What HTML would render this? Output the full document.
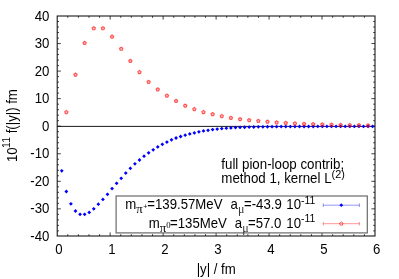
<!DOCTYPE html>
<html><head><meta charset="utf-8"><title>plot</title>
<style>html,body{margin:0;padding:0;background:#fff;}svg{display:block;will-change:transform;}text{font-family:"Liberation Sans",sans-serif;fill:#000;}.sym{font-family:"Liberation Serif",serif;}.mu{fill:#333;}</style>
</head><body>
<svg width="399" height="279" viewBox="0 0 399 279">
<rect x="0" y="0" width="399" height="279" fill="#fff"/>
<path d="M67.79 236.0v-1.8M67.79 16.0v1.8M78.39 236.0v-1.8M78.39 16.0v1.8M88.98 236.0v-1.8M88.98 16.0v1.8M99.57 236.0v-1.8M99.57 16.0v1.8M110.17 236.0v-3.6M110.17 16.0v3.6M120.76 236.0v-1.8M120.76 16.0v1.8M131.35 236.0v-1.8M131.35 16.0v1.8M141.95 236.0v-1.8M141.95 16.0v1.8M152.54 236.0v-1.8M152.54 16.0v1.8M163.13 236.0v-3.6M163.13 16.0v3.6M173.73 236.0v-1.8M173.73 16.0v1.8M184.32 236.0v-1.8M184.32 16.0v1.8M194.91 236.0v-1.8M194.91 16.0v1.8M205.51 236.0v-1.8M205.51 16.0v1.8M216.10 236.0v-3.6M216.10 16.0v3.6M226.69 236.0v-1.8M226.69 16.0v1.8M237.29 236.0v-1.8M237.29 16.0v1.8M247.88 236.0v-1.8M247.88 16.0v1.8M258.47 236.0v-1.8M258.47 16.0v1.8M269.07 236.0v-3.6M269.07 16.0v3.6M279.66 236.0v-1.8M279.66 16.0v1.8M290.25 236.0v-1.8M290.25 16.0v1.8M300.85 236.0v-1.8M300.85 16.0v1.8M311.44 236.0v-1.8M311.44 16.0v1.8M322.03 236.0v-3.6M322.03 16.0v3.6M332.63 236.0v-1.8M332.63 16.0v1.8M343.22 236.0v-1.8M343.22 16.0v1.8M353.81 236.0v-1.8M353.81 16.0v1.8M364.41 236.0v-1.8M364.41 16.0v1.8M57.2 21.51h1.8M375.0 21.51h-1.8M57.2 27.02h1.8M375.0 27.02h-1.8M57.2 32.53h1.8M375.0 32.53h-1.8M57.2 38.04h1.8M375.0 38.04h-1.8M57.2 43.55h3.6M375.0 43.55h-3.6M57.2 49.06h1.8M375.0 49.06h-1.8M57.2 54.57h1.8M375.0 54.57h-1.8M57.2 60.08h1.8M375.0 60.08h-1.8M57.2 65.59h1.8M375.0 65.59h-1.8M57.2 71.10h3.6M375.0 71.10h-3.6M57.2 76.61h1.8M375.0 76.61h-1.8M57.2 82.12h1.8M375.0 82.12h-1.8M57.2 87.63h1.8M375.0 87.63h-1.8M57.2 93.14h1.8M375.0 93.14h-1.8M57.2 98.65h3.6M375.0 98.65h-3.6M57.2 104.16h1.8M375.0 104.16h-1.8M57.2 109.67h1.8M375.0 109.67h-1.8M57.2 115.18h1.8M375.0 115.18h-1.8M57.2 120.69h1.8M375.0 120.69h-1.8M57.2 126.20h3.6M375.0 126.20h-3.6M57.2 131.71h1.8M375.0 131.71h-1.8M57.2 137.22h1.8M375.0 137.22h-1.8M57.2 142.73h1.8M375.0 142.73h-1.8M57.2 148.24h1.8M375.0 148.24h-1.8M57.2 153.75h3.6M375.0 153.75h-3.6M57.2 159.26h1.8M375.0 159.26h-1.8M57.2 164.77h1.8M375.0 164.77h-1.8M57.2 170.28h1.8M375.0 170.28h-1.8M57.2 175.79h1.8M375.0 175.79h-1.8M57.2 181.30h3.6M375.0 181.30h-3.6M57.2 186.81h1.8M375.0 186.81h-1.8M57.2 192.32h1.8M375.0 192.32h-1.8M57.2 197.83h1.8M375.0 197.83h-1.8M57.2 203.34h1.8M375.0 203.34h-1.8M57.2 208.85h3.6M375.0 208.85h-3.6M57.2 214.36h1.8M375.0 214.36h-1.8M57.2 219.87h1.8M375.0 219.87h-1.8M57.2 225.38h1.8M375.0 225.38h-1.8M57.2 230.89h1.8M375.0 230.89h-1.8" stroke="#111" stroke-width="0.8" fill="none"/>
<path d="M57.2 126.4H375.0" stroke="#000" stroke-width="0.9" fill="none"/>
<path d="M61.77 168.90l1.9 1.9l-1.9 1.9l-1.9 -1.9zM66.34 189.60l1.9 1.9l-1.9 1.9l-1.9 -1.9zM70.91 201.90l1.9 1.9l-1.9 1.9l-1.9 -1.9zM75.49 209.10l1.9 1.9l-1.9 1.9l-1.9 -1.9zM80.06 212.40l1.9 1.9l-1.9 1.9l-1.9 -1.9zM84.63 212.40l1.9 1.9l-1.9 1.9l-1.9 -1.9zM89.20 210.50l1.9 1.9l-1.9 1.9l-1.9 -1.9zM93.77 206.90l1.9 1.9l-1.9 1.9l-1.9 -1.9zM98.34 202.30l1.9 1.9l-1.9 1.9l-1.9 -1.9zM102.92 197.50l1.9 1.9l-1.9 1.9l-1.9 -1.9zM107.49 192.40l1.9 1.9l-1.9 1.9l-1.9 -1.9zM112.06 186.70l1.9 1.9l-1.9 1.9l-1.9 -1.9zM116.63 181.40l1.9 1.9l-1.9 1.9l-1.9 -1.9zM121.20 176.40l1.9 1.9l-1.9 1.9l-1.9 -1.9zM125.77 171.20l1.9 1.9l-1.9 1.9l-1.9 -1.9zM130.34 166.40l1.9 1.9l-1.9 1.9l-1.9 -1.9zM134.92 161.90l1.9 1.9l-1.9 1.9l-1.9 -1.9zM139.49 158.10l1.9 1.9l-1.9 1.9l-1.9 -1.9zM144.06 154.30l1.9 1.9l-1.9 1.9l-1.9 -1.9zM148.63 150.90l1.9 1.9l-1.9 1.9l-1.9 -1.9zM153.20 147.90l1.9 1.9l-1.9 1.9l-1.9 -1.9zM157.77 145.00l1.9 1.9l-1.9 1.9l-1.9 -1.9zM162.34 142.45l1.9 1.9l-1.9 1.9l-1.9 -1.9zM166.92 140.20l1.9 1.9l-1.9 1.9l-1.9 -1.9zM171.49 137.90l1.9 1.9l-1.9 1.9l-1.9 -1.9zM176.06 136.10l1.9 1.9l-1.9 1.9l-1.9 -1.9zM180.63 134.60l1.9 1.9l-1.9 1.9l-1.9 -1.9zM185.20 133.25l1.9 1.9l-1.9 1.9l-1.9 -1.9zM189.77 132.00l1.9 1.9l-1.9 1.9l-1.9 -1.9zM194.35 131.00l1.9 1.9l-1.9 1.9l-1.9 -1.9zM198.92 129.90l1.9 1.9l-1.9 1.9l-1.9 -1.9zM203.49 129.00l1.9 1.9l-1.9 1.9l-1.9 -1.9zM208.06 128.40l1.9 1.9l-1.9 1.9l-1.9 -1.9zM212.63 127.65l1.9 1.9l-1.9 1.9l-1.9 -1.9zM217.20 127.20l1.9 1.9l-1.9 1.9l-1.9 -1.9zM221.77 126.70l1.9 1.9l-1.9 1.9l-1.9 -1.9zM226.35 126.30l1.9 1.9l-1.9 1.9l-1.9 -1.9zM230.92 126.00l1.9 1.9l-1.9 1.9l-1.9 -1.9zM235.49 125.70l1.9 1.9l-1.9 1.9l-1.9 -1.9zM240.06 125.50l1.9 1.9l-1.9 1.9l-1.9 -1.9zM244.63 125.35l1.9 1.9l-1.9 1.9l-1.9 -1.9zM249.20 125.20l1.9 1.9l-1.9 1.9l-1.9 -1.9zM253.77 125.10l1.9 1.9l-1.9 1.9l-1.9 -1.9zM258.35 124.95l1.9 1.9l-1.9 1.9l-1.9 -1.9zM262.92 124.90l1.9 1.9l-1.9 1.9l-1.9 -1.9zM267.49 124.84l1.9 1.9l-1.9 1.9l-1.9 -1.9zM272.06 124.80l1.9 1.9l-1.9 1.9l-1.9 -1.9zM276.63 124.76l1.9 1.9l-1.9 1.9l-1.9 -1.9zM281.20 124.72l1.9 1.9l-1.9 1.9l-1.9 -1.9zM285.78 124.69l1.9 1.9l-1.9 1.9l-1.9 -1.9zM290.35 124.66l1.9 1.9l-1.9 1.9l-1.9 -1.9zM294.92 124.64l1.9 1.9l-1.9 1.9l-1.9 -1.9zM299.49 124.62l1.9 1.9l-1.9 1.9l-1.9 -1.9zM304.06 124.60l1.9 1.9l-1.9 1.9l-1.9 -1.9zM308.63 124.59l1.9 1.9l-1.9 1.9l-1.9 -1.9zM313.20 124.58l1.9 1.9l-1.9 1.9l-1.9 -1.9zM317.78 124.57l1.9 1.9l-1.9 1.9l-1.9 -1.9zM322.35 124.56l1.9 1.9l-1.9 1.9l-1.9 -1.9zM326.92 124.55l1.9 1.9l-1.9 1.9l-1.9 -1.9zM331.49 124.54l1.9 1.9l-1.9 1.9l-1.9 -1.9zM336.06 124.54l1.9 1.9l-1.9 1.9l-1.9 -1.9zM340.63 124.53l1.9 1.9l-1.9 1.9l-1.9 -1.9zM345.20 124.53l1.9 1.9l-1.9 1.9l-1.9 -1.9zM349.78 124.52l1.9 1.9l-1.9 1.9l-1.9 -1.9zM354.35 124.52l1.9 1.9l-1.9 1.9l-1.9 -1.9zM358.92 124.52l1.9 1.9l-1.9 1.9l-1.9 -1.9zM363.49 124.51l1.9 1.9l-1.9 1.9l-1.9 -1.9zM368.06 124.51l1.9 1.9l-1.9 1.9l-1.9 -1.9zM372.63 124.51l1.9 1.9l-1.9 1.9l-1.9 -1.9z" fill="#0000ff" stroke="none"/>
<path d="M66.34 110.45L67.96 111.62L67.34 113.53L65.34 113.53L64.73 111.62zM75.49 73.05L77.10 74.22L76.49 76.13L74.49 76.13L73.87 74.22zM84.63 41.25L86.25 42.42L85.63 44.33L83.63 44.33L83.01 42.42zM93.77 26.65L95.39 27.82L94.77 29.73L92.77 29.73L92.16 27.82zM102.92 26.65L104.53 27.82L103.91 29.73L101.92 29.73L101.30 27.82zM112.06 35.05L113.67 36.22L113.06 38.13L111.06 38.13L110.44 36.22zM121.20 47.15L122.82 48.32L122.20 50.23L120.20 50.23L119.58 48.32zM130.34 59.25L131.96 60.42L131.34 62.33L129.34 62.33L128.73 60.42zM139.49 70.45L141.10 71.62L140.49 73.53L138.49 73.53L137.87 71.62zM148.63 80.25L150.25 81.42L149.63 83.33L147.63 83.33L147.01 81.42zM157.77 87.85L159.39 89.02L158.77 90.93L156.77 90.93L156.16 89.02zM166.92 94.05L168.53 95.22L167.92 97.13L165.92 97.13L165.30 95.22zM176.06 99.25L177.68 100.42L177.06 102.33L175.06 102.33L174.44 100.42zM185.20 104.05L186.82 105.22L186.20 107.13L184.20 107.13L183.59 105.22zM194.35 107.45L195.96 108.62L195.34 110.53L193.35 110.53L192.73 108.62zM203.49 110.45L205.10 111.62L204.49 113.53L202.49 113.53L201.87 111.62zM212.63 112.55L214.25 113.72L213.63 115.63L211.63 115.63L211.01 113.72zM221.77 114.45L223.39 115.62L222.77 117.53L220.77 117.53L220.16 115.62zM230.92 116.25L232.53 117.42L231.92 119.33L229.92 119.33L229.30 117.42zM240.06 117.55L241.68 118.72L241.06 120.63L239.06 120.63L238.44 118.72zM249.20 118.50L250.82 119.67L250.20 121.58L248.20 121.58L247.59 119.67zM258.35 119.25L259.96 120.42L259.35 122.33L257.35 122.33L256.73 120.42zM267.49 120.05L269.11 121.22L268.49 123.13L266.49 123.13L265.87 121.22zM276.63 120.75L278.25 121.92L277.63 123.83L275.63 123.83L275.02 121.92zM285.78 121.30L287.39 122.47L286.77 124.38L284.78 124.38L284.16 122.47zM294.92 121.85L296.53 123.02L295.92 124.93L293.92 124.93L293.30 123.02zM304.06 122.25L305.68 123.42L305.06 125.33L303.06 125.33L302.44 123.42zM313.20 122.55L314.82 123.72L314.20 125.63L312.20 125.63L311.59 123.72zM322.35 122.80L323.96 123.97L323.35 125.88L321.35 125.88L320.73 123.97zM331.49 123.05L333.11 124.22L332.49 126.13L330.49 126.13L329.87 124.22zM340.63 123.25L342.25 124.42L341.63 126.33L339.63 126.33L339.02 124.42zM349.78 123.45L351.39 124.62L350.78 126.53L348.78 126.53L348.16 124.62zM358.92 123.60L360.54 124.77L359.92 126.68L357.92 126.68L357.30 124.77zM368.06 123.75L369.68 124.92L369.06 126.83L367.06 126.83L366.45 124.92z" fill="#ff0000" fill-opacity="0.2" stroke="#ff0000" stroke-width="1.2" stroke-opacity="0.62" stroke-linejoin="round"/>
<rect x="116.1" y="196" width="251.2" height="36.9" fill="#fff" stroke="#6a6a6a" stroke-width="1.2"/>
<path d="M323.3 205.2H359.4M323.3 203.39999999999998v3.6M359.4 203.39999999999998v3.6" stroke="#0000ff" stroke-width="0.7" stroke-opacity="0.6" fill="none"/>
<path d="M341.3 203.29999999999998l1.9 1.9l-1.9 1.9l-1.9 -1.9z" fill="#0000ff"/>
<path d="M323.3 223.7H359.4M323.3 221.89999999999998v3.6M359.4 221.89999999999998v3.6" stroke="#ff0000" stroke-width="0.7" stroke-opacity="0.6" fill="none"/>
<path d="M341.30 221.90L343.01 223.14L342.36 225.16L340.24 225.16L339.59 223.14z" fill="none" stroke="#ff0000" stroke-width="1" stroke-opacity="0.62"/>
<rect x="57.2" y="16.0" width="317.8" height="220.0" fill="none" stroke="#111" stroke-width="1.05"/>
<text transform="matrix(1 0 0 1.04 0 -0.824)" x="49.4" y="20.6" font-size="13.2" text-anchor="end">40</text>
<text transform="matrix(1 0 0 1.04 0 -1.926)" x="49.4" y="48.15" font-size="13.2" text-anchor="end">30</text>
<text transform="matrix(1 0 0 1.04 0 -3.028)" x="49.4" y="75.7" font-size="13.2" text-anchor="end">20</text>
<text transform="matrix(1 0 0 1.04 0 -4.130)" x="49.4" y="103.25" font-size="13.2" text-anchor="end">10</text>
<text transform="matrix(1 0 0 1.04 0 -5.232)" x="49.4" y="130.8" font-size="13.2" text-anchor="end">0</text>
<text transform="matrix(1 0 0 1.04 0 -6.334)" x="49.4" y="158.35" font-size="13.2" text-anchor="end">-10</text>
<text transform="matrix(1 0 0 1.04 0 -7.436)" x="49.4" y="185.9" font-size="13.2" text-anchor="end">-20</text>
<text transform="matrix(1 0 0 1.04 0 -8.538)" x="49.4" y="213.45" font-size="13.2" text-anchor="end">-30</text>
<text transform="matrix(1 0 0 1.04 0 -9.640)" x="49.4" y="241.0" font-size="13.2" text-anchor="end">-40</text>
<text transform="matrix(1 0 0 1.04 0 -10.156)" x="59.0" y="253.9" font-size="13.2" text-anchor="middle">0</text>
<text transform="matrix(1 0 0 1.04 0 -10.156)" x="111.97" y="253.9" font-size="13.2" text-anchor="middle">1</text>
<text transform="matrix(1 0 0 1.04 0 -10.156)" x="164.93" y="253.9" font-size="13.2" text-anchor="middle">2</text>
<text transform="matrix(1 0 0 1.04 0 -10.156)" x="217.9" y="253.9" font-size="13.2" text-anchor="middle">3</text>
<text transform="matrix(1 0 0 1.04 0 -10.156)" x="270.87" y="253.9" font-size="13.2" text-anchor="middle">4</text>
<text transform="matrix(1 0 0 1.04 0 -10.156)" x="323.83" y="253.9" font-size="13.2" text-anchor="middle">5</text>
<text transform="matrix(1 0 0 1.04 0 -10.156)" x="376.8" y="253.9" font-size="13.2" text-anchor="middle">6</text>
<text transform="matrix(1 0 0 1.04 0 -10.948)" x="216.2" y="273.7" font-size="13.2" text-anchor="middle">|y| / fm</text>
<text transform="translate(16.9,162.0) rotate(-90) scale(1,1.04)" font-size="13.2">10</text>
<text transform="translate(10.0,147.9) rotate(-90) scale(1,1.04)" font-size="10.5">11</text>
<text transform="translate(16.9,133.35) rotate(-90) scale(1,1.04)" font-size="13.2">f(|y|) fm</text>
<text transform="matrix(1 0 0 1.04 0 -6.772)" x="221.3" y="169.3" font-size="13.33">full pion-loop contrib;</text>
<text transform="matrix(1 0 0 1.04 0 -7.336)" x="221.3" y="183.4" font-size="13.33">method 1, kernel L<tspan dy="-5.4" font-size="10.9">(2)</tspan></text>
<text transform="matrix(1 0 0 1.04 0 -8.352)" x="125.2" y="208.8" font-size="13.2">m<tspan class="sym" dy="4.2" font-size="12.8">π</tspan><tspan dy="-4.3" dx="0.6" font-size="7">+</tspan><tspan dy="0.1">=139.57MeV</tspan></text>
<text transform="matrix(1 0 0 1.04 0 -8.352)" x="230.6" y="208.8" font-size="13.2">a<tspan class="sym mu" dy="4.2" font-size="12">μ</tspan><tspan dy="-4.2" dx="-0.4">=-43.9</tspan></text>
<text transform="matrix(1 0 0 1.04 0 -8.352)" x="286.3" y="208.8" font-size="13.2">10<tspan dy="-4.7" font-size="10.5">-11</tspan></text>
<text transform="matrix(1 0 0 1.04 0 -9.124)" x="148.8" y="228.1" font-size="13.2">m<tspan class="sym" dy="4.2" font-size="12.8">π</tspan><tspan class="sym" dy="-4.5" font-size="8.8">0</tspan><tspan dy="0.3" dx="-0.6">=135MeV</tspan></text>
<text transform="matrix(1 0 0 1.04 0 -9.124)" x="234.8" y="228.1" font-size="13.2">a<tspan class="sym mu" dy="4.2" font-size="12">μ</tspan><tspan dy="-4.2" dx="-0.6">=57.0</tspan></text>
<text transform="matrix(1 0 0 1.04 0 -9.124)" x="286.3" y="228.1" font-size="13.2">10<tspan dy="-5.4" font-size="10.5">-11</tspan></text>
</svg>
</body></html>
